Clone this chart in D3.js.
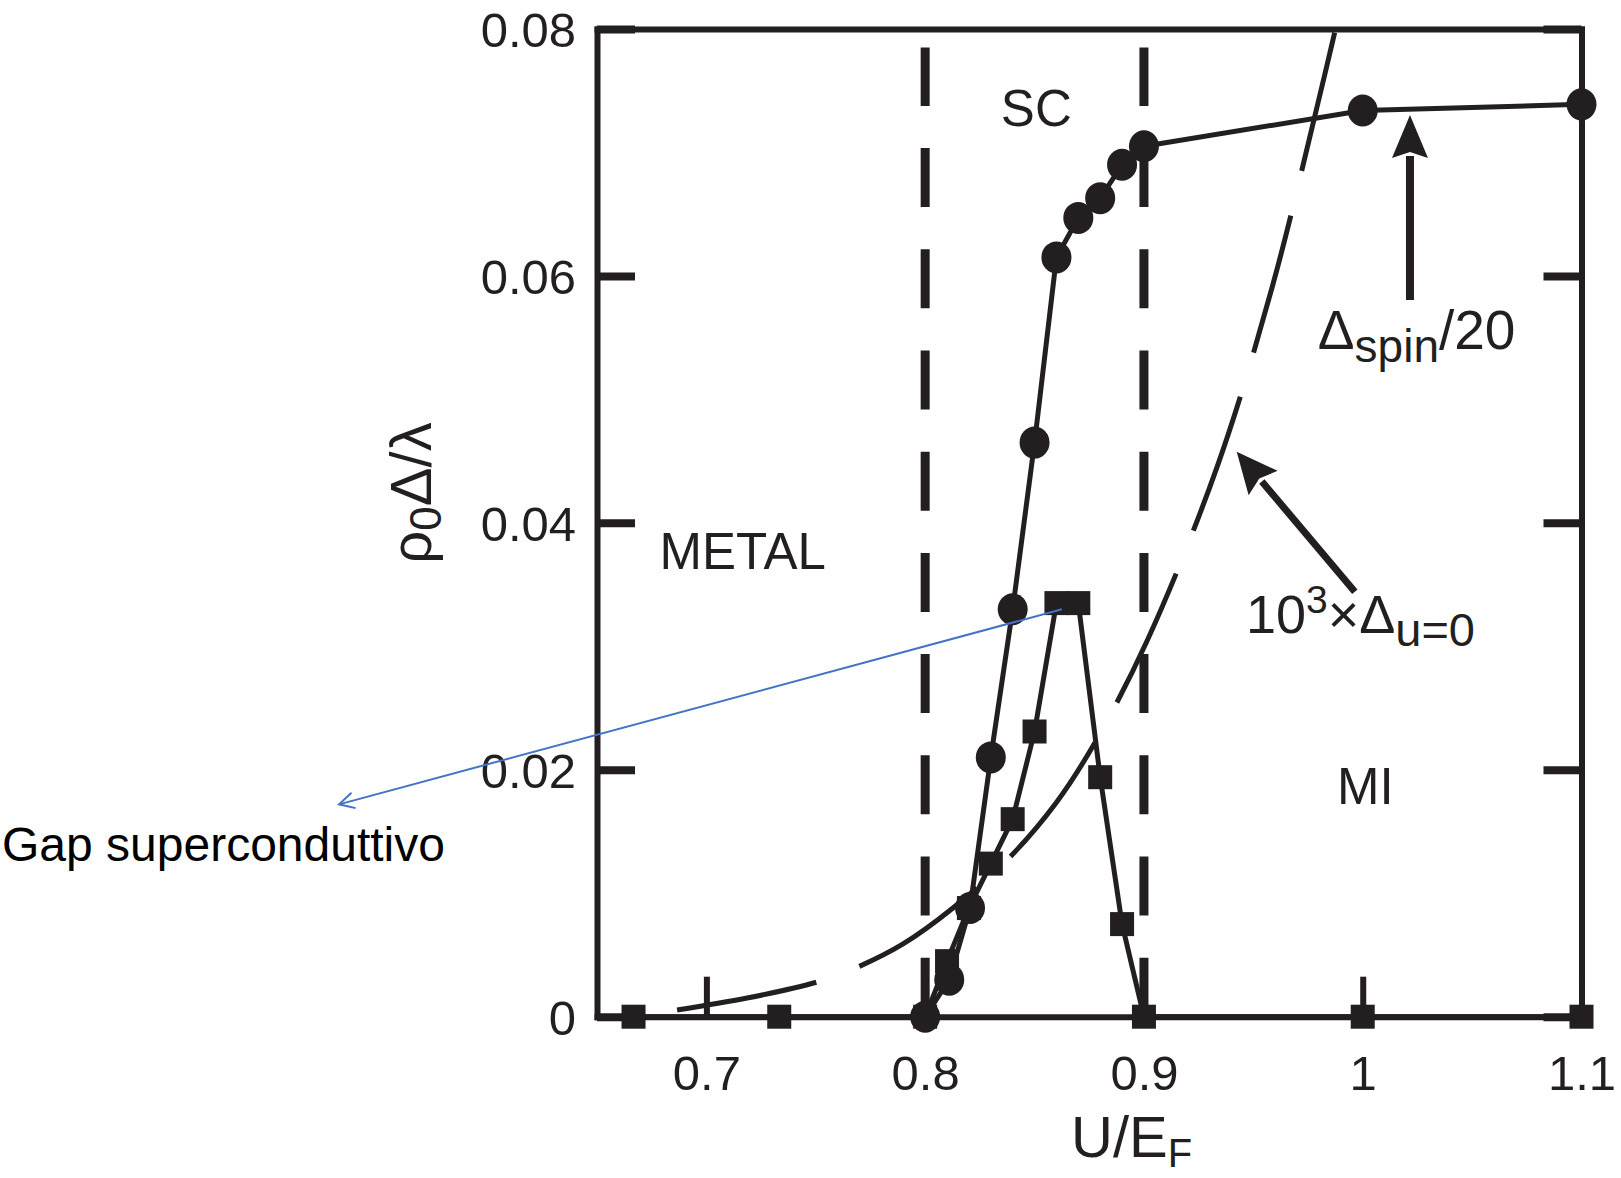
<!DOCTYPE html>
<html>
<head>
<meta charset="utf-8">
<script src="https://cdn.jsdelivr.net/npm/d3@7"></script>
<style>
  html, body { margin: 0; padding: 0; background: #ffffff; }
  svg { display: block; }
  text { font-family: "Liberation Sans", Arial, Helvetica, sans-serif; }
</style>
</head>
<body>
<svg id="chart" width="1621" height="1178"></svg>
<script>
// ---------------- data ----------------
// rho0*Delta/lambda (filled circles)
const circleX = [0.800, 0.811, 0.8205, 0.830, 0.840, 0.850, 0.860, 0.870, 0.880, 0.890, 0.900, 1.000, 1.100];
const circleY = [0.0000, 0.0030, 0.0088, 0.0210, 0.0330, 0.0465, 0.0615, 0.0647, 0.0663, 0.0690, 0.0705, 0.0734, 0.0739];

// superconducting gap (filled squares)
const squareX = [0.6667, 0.7333, 0.800, 0.810, 0.820, 0.830, 0.840, 0.850, 0.860, 0.870, 0.880, 0.890, 0.900, 1.000, 1.100];
const squareY = [0.0000, 0.0000, 0.0000, 0.0045, 0.0088, 0.0124, 0.0160, 0.0231, 0.0335, 0.0335, 0.0194, 0.0075, 0.0000, 0.0000, 0.0000];

// 10^3 x Delta_{u=0}  (long-dashed curve)
const curveX = [0.6866, 0.7186, 0.7506, 0.7693, 0.7899, 0.8127, 0.8388, 0.8598, 0.8767, 0.9014, 0.9334, 0.9585, 0.9791, 0.9896];
const curveY = [0.00054, 0.00151, 0.00281, 0.00403, 0.00589, 0.00880, 0.01294, 0.01731, 0.02193, 0.03043, 0.04452, 0.05902, 0.07368, 0.08154];

// phase boundaries (vertical dashed lines)
const phaseBoundaries = [0.8, 0.9];
const boundaryTop = 0.0785;

// axes
const xTicks = [0.7, 0.8, 0.9, 1.0, 1.1];
const xTickLabels = ["0.7", "0.8", "0.9", "1", "1.1"];
const yTicks = [0, 0.02, 0.04, 0.06, 0.08];
const yTickLabels = ["0", "0.02", "0.04", "0.06", "0.08"];

// region labels [text, x, y(baseline)]
const regionLabels = [
  ["SC", 0.8346, 0.07214],
  ["METAL", 0.6786, 0.03629],
  ["MI", 0.9882, 0.01723]
];

// annotation arrows [tailX, tailY, tipX, tipY]
const spinArrow = [1.0216, 0.05805, 1.0216, 0.07304];
const uArrow = [0.9964, 0.03442, 0.9424, 0.04576];
const spinLabelPos = [0.9795, 0.05408];
const uLabelPos = [0.9466, 0.03108];

// blue note arrow [startX, startY, tipX, tipY]
const gapNote = [0.8625, 0.0330, 0.5321, 0.0172];
const gapNoteText = "Gap superconduttivo";

// ---------------- drawing ----------------
const INK = "#231f20";
const svg = d3.select("#chart");

const x = d3.scaleLinear().domain([0.65, 1.1]).range([597, 1581.5]);
const y = d3.scaleLinear().domain([0, 0.08]).range([1016.7, 29]);

svg.append("defs").append("clipPath").attr("id", "plotClip")
  .append("rect")
  .attr("x", x(0.65)).attr("y", y(0.08))
  .attr("width", x(1.1) - x(0.65)).attr("height", y(0) - y(0.08));

// phase boundaries
svg.append("g").selectAll("line")
  .data(phaseBoundaries).join("line")
  .attr("x1", d => x(d)).attr("x2", d => x(d))
  .attr("y1", y(0)).attr("y2", y(boundaryTop))
  .attr("stroke", INK).attr("stroke-width", 9)
  .attr("stroke-dasharray", "59 42.2");

// axes / frame
function styleAxis(g, w, tw) {
  g.attr("font-size", 49).attr("font-family", '"Liberation Sans", Arial, sans-serif');
  g.select(".domain").attr("stroke", INK).attr("stroke-width", w).attr("stroke-linecap", "square");
  g.selectAll(".tick line").attr("stroke", INK).attr("stroke-width", tw);
  g.selectAll(".tick text").attr("fill", INK);
}
svg.append("g").attr("transform", `translate(${x(0.65)},0)`)
  .call(d3.axisLeft(y).tickValues(yTicks).tickSizeInner(-38).tickSizeOuter(0).tickPadding(21)
    .tickFormat((d, i) => yTickLabels[i]))
  .call(g => styleAxis(g, 6, 8))
  .call(g => g.selectAll(".tick text").attr("dy", "0.36em"));

svg.append("g").attr("transform", `translate(${x(1.1)},0)`)
  .call(d3.axisRight(y).tickValues(yTicks).tickSizeInner(-38).tickSizeOuter(0).tickFormat(() => ""))
  .call(g => styleAxis(g, 6, 8));

svg.append("g").attr("transform", `translate(0,${y(0)})`)
  .call(d3.axisBottom(x).tickValues(xTicks).tickSizeInner(-40).tickSizeOuter(0).tickPadding(39)
    .tickFormat((d, i) => xTickLabels[i]))
  .call(g => styleAxis(g, 6, 6));

svg.append("g").attr("transform", `translate(0,${y(0.08)})`)
  .call(d3.axisTop(x).tickValues([]).tickSizeOuter(0))
  .call(g => styleAxis(g, 6, 6));

// dashed curve
const curvePts = curveX.map((v, i) => [v, curveY[i]]);
svg.append("path")
  .attr("clip-path", "url(#plotClip)")
  .attr("d", d3.line().x(d => x(d[0])).y(d => y(d[1])).curve(d3.curveCatmullRom.alpha(0.5))(curvePts))
  .attr("fill", "none").attr("stroke", INK).attr("stroke-width", 5)
  .attr("stroke-dasharray", "142 46");

// series lines
const circlePts = circleX.map((v, i) => [v, circleY[i]]);
const squarePts = squareX.map((v, i) => [v, squareY[i]]);
const lineGen = d3.line().x(d => x(d[0])).y(d => y(d[1]));
svg.append("path").attr("d", lineGen(squarePts))
  .attr("fill", "none").attr("stroke", INK).attr("stroke-width", 5).attr("stroke-linejoin", "round");
svg.append("path").attr("d", lineGen(circlePts))
  .attr("fill", "none").attr("stroke", INK).attr("stroke-width", 5).attr("stroke-linejoin", "round");

// markers
const SQ = 24;
svg.append("g").selectAll("rect").data(squarePts).join("rect")
  .attr("x", d => x(d[0]) - SQ / 2).attr("y", d => y(d[1]) - SQ / 2)
  .attr("width", SQ).attr("height", SQ).attr("fill", INK);
svg.append("g").selectAll("ellipse").data(circlePts).join("ellipse")
  .attr("cx", d => x(d[0])).attr("cy", d => y(d[1])).attr("rx", 15).attr("ry", 16).attr("fill", INK);

// region labels
svg.append("g").selectAll("text").data(regionLabels).join("text")
  .attr("x", d => x(d[1])).attr("y", d => y(d[2]))
  .attr("font-size", 51).attr("fill", INK).text(d => d[0]);

// arrows with filled heads
function arrow(a, headLen, headW, sw) {
  const x1 = x(a[0]), y1 = y(a[1]), x2 = x(a[2]), y2 = y(a[3]);
  const dx = x2 - x1, dy = y2 - y1, L = Math.hypot(dx, dy);
  const ux = dx / L, uy = dy / L, px = -uy, py = ux;
  const bx = x2 - ux * headLen, by = y2 - uy * headLen;
  svg.append("line").attr("x1", x1).attr("y1", y1).attr("x2", bx + ux * 2).attr("y2", by + uy * 2)
    .attr("stroke", INK).attr("stroke-width", sw);
  svg.append("path")
    .attr("d", `M${x2},${y2}L${bx + px * headW / 2},${by + py * headW / 2}L${bx + ux * 6},${by + uy * 6}L${bx - px * headW / 2},${by - py * headW / 2}Z`)
    .attr("fill", INK);
}
arrow(spinArrow, 43, 36, 8);
arrow(uArrow, 41, 38, 7);

// Delta_spin / 20
const t1 = svg.append("text").attr("x", x(spinLabelPos[0])).attr("y", y(spinLabelPos[1]))
  .attr("fill", INK).attr("font-size", 55);
t1.append("tspan").text("Δ");
t1.append("tspan").attr("font-size", 46).attr("dy", 13).text("spin");
t1.append("tspan").attr("dy", -13).text("/20");

// 10^3 x Delta_{u=0}
const t2 = svg.append("text").attr("x", x(uLabelPos[0])).attr("y", y(uLabelPos[1]))
  .attr("fill", INK).attr("font-size", 54);
t2.append("tspan").text("10");
t2.append("tspan").attr("font-size", 39).attr("dy", -20).text("3");
t2.append("tspan").attr("dy", 20).text("×Δ");
t2.append("tspan").attr("font-size", 47).attr("dy", 13).text("u=0");

// axis titles
const xt = svg.append("text").attr("x", 1071).attr("y", 1157).attr("fill", INK).attr("font-size", 58);
xt.append("tspan").text("U/E");
xt.append("tspan").attr("font-size", 40).attr("dy", 10).text("F");

const yt = svg.append("text").attr("transform", "translate(431,493) rotate(-90)")
  .attr("text-anchor", "middle").attr("fill", INK).attr("font-size", 58);
yt.append("tspan").text("ρ");
yt.append("tspan").attr("font-size", 44).attr("dy", 10).text("0");
yt.append("tspan").attr("dy", -10).text("Δ/λ");

// blue note
const BLUE = "#4472c4";
{
  const sx = x(gapNote[0]), sy = y(gapNote[1]), tx = x(gapNote[2]), ty = y(gapNote[3]);
  const dx = sx - tx, dy = sy - ty, L = Math.hypot(dx, dy);
  const ux = dx / L, uy = dy / L;
  const ang = 28 * Math.PI / 180, hl = 17;
  const r = (a) => [ux * Math.cos(a) - uy * Math.sin(a), ux * Math.sin(a) + uy * Math.cos(a)];
  const [ax, ay] = r(ang), [bx, by] = r(-ang);
  svg.append("line").attr("x1", sx).attr("y1", sy).attr("x2", tx).attr("y2", ty)
    .attr("stroke", BLUE).attr("stroke-width", 2);
  svg.append("path")
    .attr("d", `M${tx + ax * hl},${ty + ay * hl}L${tx},${ty}L${tx + bx * hl},${ty + by * hl}`)
    .attr("fill", "none").attr("stroke", BLUE).attr("stroke-width", 2);
}
svg.append("text").attr("x", 2).attr("y", 861).attr("font-size", 48).attr("fill", "#000")
  .text(gapNoteText);
</script>
</body>
</html>
